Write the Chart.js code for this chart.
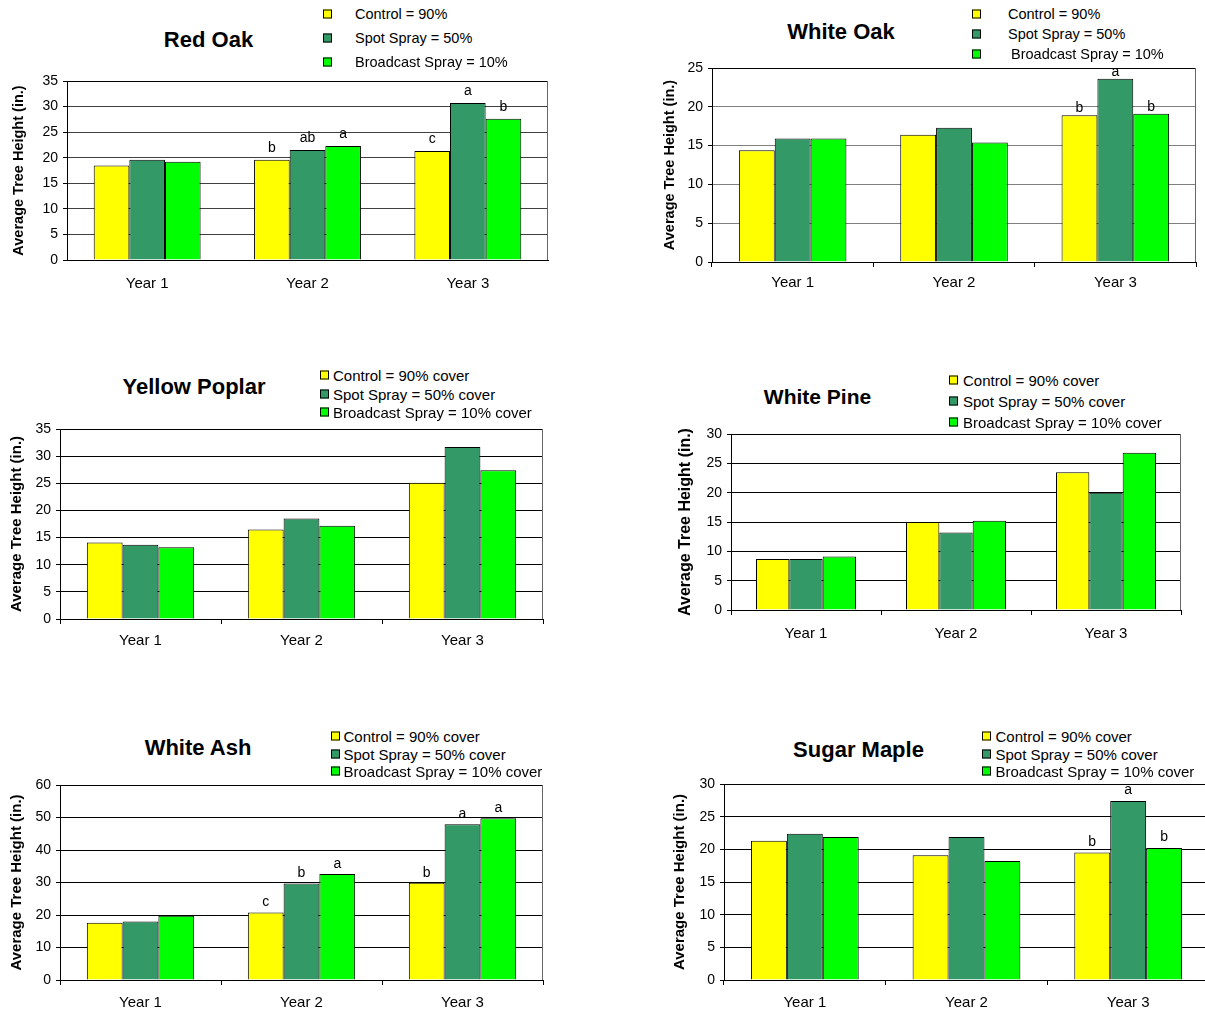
<!DOCTYPE html>
<html>
<head>
<meta charset="utf-8">
<script src="https://cdn.jsdelivr.net/npm/chart.js@4.4.0/dist/chart.umd.min.js"></script>
<style>
html, body { margin: 0; padding: 0; background: #fff; }
body { width: 1205px; height: 1012px; position: relative; overflow: hidden; font-family: "Liberation Sans", Arial, sans-serif; color: #000; }
canvas { position: absolute; }
.title { position: absolute; font-weight: bold; line-height: 1; white-space: nowrap; transform: translate(-50%, -50%); }
.leg { position: absolute; line-height: 1; white-space: nowrap; transform: translateY(-50%); }
.sw { position: absolute; width: 7px; height: 7px; border: 1px solid #000; transform: translateY(-50%); }
</style>
</head>
<body>
<script>
const years = ['Year 1', 'Year 2', 'Year 3'];
const shortLabels = ['Control = 90%', 'Spot Spray = 50%', 'Broadcast Spray = 10%'];
const coverLabels = ['Control = 90% cover', 'Spot Spray = 50% cover', 'Broadcast Spray = 10% cover'];
const colors = ['#ffff00', '#339966', '#00ff00'];

// Red Oak
const redOakControl = [18.5, 19.6, 21.3];
const redOakSpot = [19.6, 21.5, 30.7];
const redOakBroadcast = [19.2, 22.3, 27.6];
const redOakLetters = [['', 'b', 'c'], ['', 'ab', 'a'], ['', 'a', 'b']];

// White Oak
const whiteOakControl = [14.4, 16.4, 18.9];
const whiteOakSpot = [15.9, 17.3, 23.6];
const whiteOakBroadcast = [15.9, 15.4, 19.1];
const whiteOakLetters = [['', '', 'b'], ['', '', 'a'], ['', '', 'b']];

// Yellow Poplar
const poplarControl = [14.1, 16.5, 25.1];
const poplarSpot = [13.7, 18.5, 31.7];
const poplarBroadcast = [13.2, 17.2, 27.4];

// White Pine
const pineControl = [8.7, 15.0, 23.5];
const pineSpot = [8.7, 13.2, 20.0];
const pineBroadcast = [9.1, 15.2, 26.8];

// White Ash
const ashControl = [17.6, 20.8, 29.9];
const ashSpot = [18.0, 29.7, 47.9];
const ashBroadcast = [19.8, 32.6, 49.8];
const ashLetters = [['', 'c', 'b'], ['', 'b', 'a'], ['', 'a', 'a']];

// Sugar Maple
const mapleControl = [21.3, 19.1, 19.5];
const mapleSpot = [22.4, 21.9, 27.4];
const mapleBroadcast = [21.9, 18.2, 20.2];
const mapleLetters = [['', '', 'b'], ['', '', 'a'], ['', '', 'b']];

const charts = [
  { title: 'Red Oak', legend: shortLabels, values: [redOakControl, redOakSpot, redOakBroadcast], letters: redOakLetters, max: 35, step: 5,
    box: [67, 81, 548, 260], titleAt: [208.5, 40], titleSize: 22, yTitleX: 18.5, yTitleSize: 14.5,
    sqX: 323, textX: [355, 355, 355], rowY: [13.5, 37.5, 61.5], legendSize: 14.5, grid: '#404040', xTicks: false, labelOffset: 23.5, gap: 8 },
  { title: 'White Oak', legend: shortLabels, values: [whiteOakControl, whiteOakSpot, whiteOakBroadcast], letters: whiteOakLetters, max: 25, step: 5,
    box: [712, 68, 1196, 262], titleAt: [841, 32], titleSize: 22, yTitleX: 669.5, yTitleSize: 14.5,
    sqX: 972, textX: [1008, 1008, 1011], rowY: [14, 33.5, 54], legendSize: 14.5, grid: '#808080', xTicks: true, labelOffset: 20.5, gap: 3 },
  { title: 'Yellow Poplar', legend: coverLabels, values: [poplarControl, poplarSpot, poplarBroadcast], letters: null, max: 35, step: 5,
    box: [60, 429, 543, 619], titleAt: [194, 387], titleSize: 22, yTitleX: 16.5, yTitleSize: 15,
    sqX: 320, textX: [333, 333, 333], rowY: [375, 394, 412], legendSize: 15, grid: '#000', xTicks: true, labelOffset: 21.5, gap: 6 },
  { title: 'White Pine', legend: coverLabels, values: [pineControl, pineSpot, pineBroadcast], letters: null, max: 30, step: 5,
    box: [731, 434, 1181, 610], titleAt: [817.5, 396], titleSize: 21, yTitleX: 686, yTitleSize: 16,
    sqX: 949, textX: [963, 963, 963], rowY: [380, 400.5, 421.5], legendSize: 15, grid: '#000', xTicks: true, labelOffset: 24, gap: 6 },
  { title: 'White Ash', legend: coverLabels, values: [ashControl, ashSpot, ashBroadcast], letters: ashLetters, max: 60, step: 10,
    box: [60, 785, 543, 980], titleAt: [198, 748], titleSize: 22, yTitleX: 16.5, yTitleSize: 15,
    sqX: 331, textX: [343.5, 343.5, 343.5], rowY: [736, 753.5, 771], legendSize: 15, grid: '#000', xTicks: true, labelOffset: 23, gap: 6 },
  { title: 'Sugar Maple', legend: coverLabels, values: [mapleControl, mapleSpot, mapleBroadcast], letters: mapleLetters, max: 30, step: 5,
    box: [724, 784, 1209, 980], titleAt: [858.5, 750], titleSize: 22, yTitleX: 680, yTitleSize: 15,
    sqX: 982, textX: [995.5, 995.5, 995.5], rowY: [736, 753.5, 771], legendSize: 15, grid: '#000', xTicks: true, labelOffset: 22.5, gap: 7 }
];

Chart.defaults.font.family = '"Liberation Sans", Arial, sans-serif';
Chart.defaults.color = '#000';

// letters above bars (significance groups)
const letterPlugin = {
  id: 'letters',
  afterDatasetsDraw(chart, args, opts) {
    if (!opts.letters) return;
    const ctx = chart.ctx;
    ctx.save();
    ctx.font = '14px "Liberation Sans", Arial, sans-serif';
    ctx.fillStyle = '#000';
    ctx.textAlign = 'center';
    ctx.textBaseline = 'alphabetic';
    opts.letters.forEach((arr, di) => {
      const meta = chart.getDatasetMeta(di);
      arr.forEach((t, i) => {
        if (!t) return;
        const bar = meta.data[i];
        ctx.fillText(t, bar.x, bar.y - opts.gap);
      });
    });
    ctx.restore();
  }
};

// grey right edge of the plot box
const framePlugin = {
  id: 'frame',
  beforeDatasetsDraw(chart) {
    const { ctx, chartArea: a } = chart;
    ctx.save();
    ctx.strokeStyle = '#666';
    ctx.lineWidth = 1;
    const x = Math.round(a.right) - 0.5;
    ctx.beginPath();
    ctx.moveTo(x, a.top);
    ctx.lineTo(x, a.bottom);
    ctx.stroke();
    ctx.restore();
  }
};

function addDiv(cls, text, x, y, size) {
  const d = document.createElement('div');
  d.className = cls;
  if (text) d.textContent = text;
  d.style.left = x + 'px';
  d.style.top = y + 'px';
  if (size) d.style.fontSize = size + 'px';
  document.body.appendChild(d);
  return d;
}

charts.forEach(c => {
  const [L, T, R, B] = c.box;
  const yw = 64, pt = 20, pr = 10, xh = 40;
  const cv = document.createElement('canvas');
  cv.width = R - L + yw + pr;
  cv.height = B - T + pt + xh;
  cv.style.left = (L - yw) + 'px';
  cv.style.top = (T - pt) + 'px';
  document.body.appendChild(cv);
  const tl = c.xTicks ? 5 : 0;

  new Chart(cv, {
    type: 'bar',
    data: {
      labels: years,
      datasets: c.values.map((v, i) => ({
        label: c.legend[i],
        data: v,
        backgroundColor: colors[i],
        borderColor: '#000',
        borderWidth: 1,
        borderSkipped: 'start',
        categoryPercentage: 2 / 3,
        barPercentage: 1
      }))
    },
    options: {
      responsive: false,
      animation: false,
      events: [],
      layout: { padding: { left: 0, top: pt, right: pr, bottom: 0 } },
      plugins: {
        legend: { display: false },
        tooltip: { enabled: false },
        letters: { letters: c.letters, gap: c.gap }
      },
      scales: {
        x: {
          grid: { offset: true, drawOnChartArea: false, drawTicks: c.xTicks, tickLength: 5, color: '#000' },
          border: { color: '#000' },
          ticks: { color: '#000', font: { size: 15 }, padding: c.labelOffset - tl - 9 },
          afterFit: s => { s.height = xh; }
        },
        y: {
          min: 0,
          max: c.max,
          ticks: { stepSize: c.step, color: '#000', font: { size: 14 }, padding: 5 },
          grid: {
            color: ctx => (ctx.tick && ctx.tick.value === c.max) ? '#000' : c.grid,
            tickColor: '#000',
            tickLength: 4
          },
          border: { color: '#000' },
          title: {
            display: true,
            text: 'Average Tree Height (in.)',
            color: '#000',
            font: { size: c.yTitleSize, weight: 'bold' },
            padding: { top: c.yTitleX - (L - yw) - c.yTitleSize * 0.6, bottom: 0 }
          },
          afterFit: s => { s.width = yw; }
        }
      }
    },
    plugins: [letterPlugin, framePlugin]
  });

  addDiv('title', c.title, c.titleAt[0], c.titleAt[1], c.titleSize);
  c.legend.forEach((lbl, i) => {
    const sw = addDiv('sw', '', c.sqX, c.rowY[i]);
    sw.style.background = colors[i];
    addDiv('leg', lbl, c.textX[i], c.rowY[i], c.legendSize);
  });
});
</script>
</body>
</html>
